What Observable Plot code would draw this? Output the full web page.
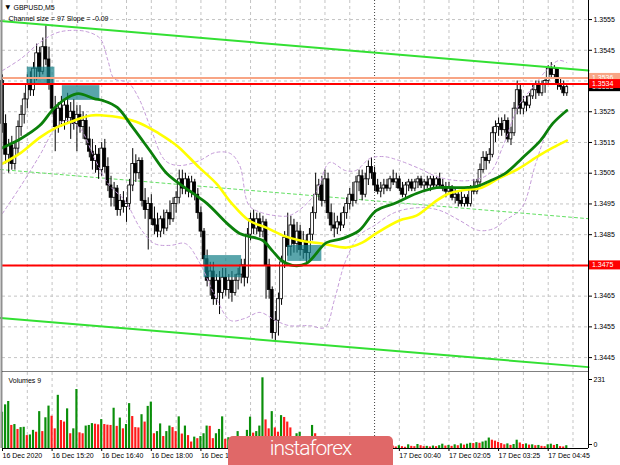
<!DOCTYPE html>
<html><head><meta charset="utf-8">
<script src="https://cdn.jsdelivr.net/npm/d3@7"></script>
<script src="https://cdn.jsdelivr.net/npm/@observablehq/plot@0.6"></script>
<style>
html,body{margin:0;padding:0;background:#fff;}
#wrap{position:relative;width:620px;height:465px;overflow:hidden;background:#fff;}
#wrap svg{display:block;}
#wm{position:absolute;left:228px;top:436px;width:165px;height:40px;background:#e06868;border-radius:5px;color:#fff;font-family:Roboto,"Open Sans",sans-serif;font-weight:300;font-size:21px;line-height:1;}
#wm span{position:absolute;left:0;right:0;top:2px;text-align:center;letter-spacing:-1px;}
</style></head>
<body><div id="wrap"><div id="wm"><span>instaforex</span></div></div>
<script>
// ---- candles (GBPUSD M5, bar index 0 = 16 Dec 14:00) ----
const open = [
1.3535,1.3521,1.3511,1.3514,1.3508,1.3513,1.3520,1.3524,1.3529,1.3534,
1.3532,1.3539,1.3544,1.3538,1.3546,1.3542,1.3534,1.3526,1.3520,1.3526,
1.3522,1.3527,1.3523,1.3525,1.3521,1.3524,1.3520,1.3522,1.3516,1.3512,
1.3509,1.3511,1.3506,1.3513,1.3507,1.3501,1.3497,1.3500,1.3493,1.3496,
1.3494,1.3495,1.3501,1.3508,1.3505,1.3509,1.3496,1.3493,1.3495,1.3490,
1.3488,1.3486,1.3490,1.3487,1.3492,1.3490,1.3495,1.3497,1.3503,1.3500,
1.3503,1.3499,1.3502,1.3498,1.3492,1.3486,1.3477,1.3470,1.3473,1.3464,
1.3470,1.3466,1.3471,1.3467,1.3470,1.3466,1.3470,1.3472,1.3475,1.3471,
1.3485,1.3490,1.3487,1.3490,1.3486,1.3489,1.3475,1.3467,1.3453,1.3457,
1.3464,1.3476,1.3484,1.3481,1.3488,1.3482,1.3486,1.3480,1.3483,1.3479,
1.3485,1.3492,1.3498,1.3501,1.3496,1.3503,1.3492,1.3488,1.3487,1.3489,
1.3488,1.3492,1.3495,1.3498,1.3496,1.3502,1.3504,1.3498,1.3503,1.3507,
1.3505,1.3501,1.3499,1.3500,1.3501,1.3500,1.3503,1.3502,1.3503,1.3500,
1.3498,1.3501,1.3502,1.3500,1.3502,1.3503,1.3501,1.3502,1.3501,1.3503,
1.3501,1.3503,1.3501,1.3500,1.3499,1.3500,1.3497,1.3498,1.3496,1.3495,
1.3497,1.3495,1.3500,1.3499,1.3502,1.3506,1.3510,1.3509,1.3511,1.3518,
1.3520,1.3521,1.3519,1.3522,1.3516,1.3518,1.3526,1.3532,1.3526,1.3528,
1.3527,1.3530,1.3532,1.3534,1.3531,1.3534,1.3535,1.3539,1.3537,1.3539,
1.3534,1.3533,1.3531];
const high = [
1.3537,1.3524,1.3516,1.3517,1.3515,1.3522,1.3527,1.3531,1.3537,1.3538,
1.3541,1.3547,1.3546,1.3549,1.3553,1.3546,1.3536,1.3530,1.3528,1.3530,
1.3529,1.3531,1.3528,1.3529,1.3527,1.3527,1.3525,1.3524,1.3520,1.3516,
1.3514,1.3513,1.3515,1.3516,1.3510,1.3504,1.3502,1.3501,1.3498,1.3499,
1.3497,1.3503,1.3513,1.3511,1.3510,1.3510,1.3500,1.3497,1.3498,1.3494,
1.3492,1.3491,1.3493,1.3493,1.3496,1.3497,1.3499,1.3506,1.3506,1.3505,
1.3504,1.3504,1.3503,1.3500,1.3494,1.3487,1.3480,1.3476,1.3476,1.3472,
1.3473,1.3474,1.3474,1.3472,1.3473,1.3472,1.3474,1.3477,1.3477,1.3487,
1.3492,1.3493,1.3492,1.3492,1.3491,1.3490,1.3477,1.3468,1.3460,1.3466,
1.3478,1.3486,1.3492,1.3491,1.3490,1.3489,1.3488,1.3486,1.3485,1.3487,
1.3494,1.3505,1.3503,1.3504,1.3506,1.3505,1.3495,1.3492,1.3491,1.3492,
1.3494,1.3497,1.3500,1.3502,1.3504,1.3506,1.3506,1.3505,1.3509,1.3510,
1.3507,1.3503,1.3502,1.3503,1.3503,1.3504,1.3506,1.3505,1.3504,1.3502,
1.3502,1.3503,1.3503,1.3503,1.3504,1.3504,1.3503,1.3504,1.3504,1.3504,
1.3504,1.3505,1.3503,1.3502,1.3502,1.3501,1.3500,1.3499,1.3499,1.3498,
1.3498,1.3501,1.3503,1.3503,1.3508,1.3512,1.3512,1.3513,1.3520,1.3522,
1.3523,1.3523,1.3524,1.3523,1.3520,1.3528,1.3535,1.3534,1.3530,1.3530,
1.3531,1.3534,1.3535,1.3535,1.3535,1.3536,1.3540,1.3541,1.3540,1.3539,
1.3536,1.3535,1.3534];
const low = [
1.3518,1.3508,1.3505,1.3506,1.3506,1.3511,1.3517,1.3521,1.3526,1.3530,
1.3530,1.3535,1.3536,1.3537,1.3540,1.3532,1.3524,1.3512,1.3518,1.3520,
1.3519,1.3521,1.3516,1.3519,1.3512,1.3518,1.3516,1.3514,1.3510,1.3506,
1.3505,1.3503,1.3504,1.3505,1.3499,1.3494,1.3494,1.3491,1.3491,1.3492,
1.3489,1.3493,1.3499,1.3502,1.3503,1.3494,1.3490,1.3480,1.3488,1.3485,
1.3484,1.3484,1.3485,1.3486,1.3488,1.3489,1.3492,1.3495,1.3498,1.3498,
1.3497,1.3497,1.3496,1.3490,1.3484,1.3475,1.3468,1.3465,1.3462,1.3462,
1.3459,1.3464,1.3465,1.3464,1.3463,1.3465,1.3467,1.3469,1.3468,1.3469,
1.3483,1.3485,1.3485,1.3484,1.3484,1.3464,1.3464,1.3451,1.3450,1.3452,
1.3462,1.3474,1.3478,1.3478,1.3479,1.3479,1.3478,1.3477,1.3476,1.3477,
1.3483,1.3490,1.3496,1.3494,1.3495,1.3490,1.3486,1.3484,1.3485,1.3486,
1.3487,1.3490,1.3493,1.3494,1.3495,1.3499,1.3496,1.3497,1.3501,1.3503,
1.3499,1.3498,1.3497,1.3498,1.3499,1.3499,1.3501,1.3500,1.3499,1.3497,
1.3497,1.3499,1.3499,1.3499,1.3500,1.3500,1.3499,1.3500,1.3499,1.3500,
1.3500,1.3500,1.3499,1.3497,1.3498,1.3496,1.3495,1.3494,1.3494,1.3494,
1.3494,1.3494,1.3498,1.3498,1.3500,1.3505,1.3506,1.3508,1.3510,1.3515,
1.3517,1.3517,1.3518,1.3515,1.3514,1.3517,1.3524,1.3524,1.3524,1.3525,
1.3526,1.3529,1.3529,1.3530,1.3530,1.3531,1.3534,1.3536,1.3536,1.3532,
1.3532,1.3530,1.3530];
const close = [
1.3521,1.3511,1.3514,1.3508,1.3513,1.3520,1.3524,1.3529,1.3534,1.3532,
1.3539,1.3544,1.3538,1.3546,1.3542,1.3534,1.3526,1.3520,1.3526,1.3522,
1.3527,1.3523,1.3525,1.3521,1.3524,1.3520,1.3522,1.3516,1.3512,1.3509,
1.3511,1.3506,1.3513,1.3507,1.3501,1.3497,1.3500,1.3493,1.3496,1.3494,
1.3495,1.3501,1.3508,1.3505,1.3509,1.3496,1.3493,1.3495,1.3490,1.3488,
1.3486,1.3490,1.3487,1.3492,1.3490,1.3495,1.3497,1.3503,1.3500,1.3503,
1.3499,1.3502,1.3498,1.3492,1.3486,1.3477,1.3470,1.3473,1.3464,1.3470,
1.3466,1.3471,1.3467,1.3470,1.3466,1.3470,1.3472,1.3475,1.3471,1.3485,
1.3490,1.3487,1.3490,1.3486,1.3489,1.3475,1.3467,1.3453,1.3457,1.3464,
1.3476,1.3484,1.3481,1.3488,1.3482,1.3486,1.3480,1.3483,1.3479,1.3485,
1.3492,1.3498,1.3501,1.3496,1.3503,1.3492,1.3488,1.3487,1.3489,1.3488,
1.3492,1.3495,1.3498,1.3496,1.3502,1.3504,1.3498,1.3503,1.3507,1.3505,
1.3501,1.3499,1.3500,1.3501,1.3500,1.3503,1.3502,1.3503,1.3500,1.3498,
1.3501,1.3502,1.3500,1.3502,1.3503,1.3501,1.3502,1.3501,1.3503,1.3501,
1.3503,1.3501,1.3500,1.3499,1.3500,1.3497,1.3498,1.3496,1.3495,1.3497,
1.3495,1.3500,1.3499,1.3502,1.3506,1.3510,1.3509,1.3511,1.3518,1.3520,
1.3521,1.3519,1.3522,1.3516,1.3518,1.3526,1.3532,1.3526,1.3528,1.3527,
1.3530,1.3532,1.3534,1.3531,1.3534,1.3535,1.3539,1.3537,1.3539,1.3534,
1.3533,1.3531,1.3533];

// ---- volumes ----
const volume = [
118,142,153,75,78,62,68,69,42,44,59,53,120,
55,100,138,105,64,173,91,86,129,48,64,192,
51,48,73,75,81,79,77,94,78,76,75,
131,72,99,64,78,146,104,68,67,110,86,137,151,
48,55,80,39,55,73,68,55,103,47,73,42,21,37,
32,39,48,73,72,32,48,62,103,
30,35,28,38,55,30,36,59,102,50,55,73,230,93,64,120,67,53,107,101,86,67,35,48,53,30,25,35,
75,48,
30,22,35,28,20,25,18,22,30,16,20,24,18,26,21,15,19,14,17,12,16,10,13,9,
8,5,9,6,4,12,7,6,13,9,6,7,5,8,6,9,14,8,10,7,12,9,15,11,14,17,16,19,17,21,24,34,27,24,20,16,12,15,10,13,27,18,13,15,11,12,9,10,7,6,12,14,10,13,6,5,
9];

// ---- indicators (bar index, price) ----
const greenIdx = [0,6,12,16.5,21,24.5,29.5,32.5,37,42,47.5,53,61.5,66,72.5,76.5,81,84,87,90,93.5,98,104.5,109.5,115,120.5,127,133.5,140,147.5,153,157.5,162.5,167.5,173.5,177.5,182];
const greenVal = [1.35133,1.35163,1.35205,1.3526,1.35296,1.35309,1.35293,1.35286,1.35264,1.35199,1.35124,1.35049,1.34984,1.34951,1.34886,1.34854,1.34841,1.34831,1.34798,1.34766,1.3475,1.34756,1.34824,1.34837,1.34863,1.34928,1.34954,1.34984,1.35003,1.35003,1.35007,1.35026,1.35052,1.35098,1.35156,1.35212,1.35254];
const yellowIdx = [0,6,12,17.5,23,28.5,32.5,38,44.5,50.5,54,57,63.5,69,74,79.5,85,90.5,96,103,111,116,120.5,128,133.5,140,144,148,154.5,160,166.5,173,177.5,182];
const yellowVal = [1.35081,1.35117,1.35166,1.35199,1.35221,1.35238,1.35238,1.35231,1.35212,1.35179,1.35156,1.35133,1.35068,1.35016,1.34951,1.34896,1.34873,1.34847,1.34831,1.34821,1.34808,1.34824,1.34854,1.34896,1.34912,1.34961,1.34984,1.34994,1.35003,1.35033,1.35065,1.35107,1.35133,1.35156];
const upperIdx = [0,6,12,17,21,27,31.5,34,36,40.5,44,47.5,52.5,57,63.5,68.5,73.5,76.5,79.5,83.5,88,92.5,97.5,101.5,105.5,110.5,114,118.5,123,128,134.5,141,150.5,157,161.5,166.5,171.5,176,179.5,182];
const upperVal = [1.35384,1.35423,1.35475,1.35505,1.35514,1.35511,1.35488,1.35417,1.35358,1.35345,1.35293,1.35205,1.35091,1.35075,1.35091,1.35117,1.35114,1.35075,1.34945,1.34922,1.34912,1.34912,1.34945,1.34994,1.35085,1.35059,1.35059,1.35098,1.35104,1.35091,1.35065,1.35036,1.35026,1.35049,1.35140,1.35270,1.35335,1.35391,1.35417,1.35410];
const lowerIdx = [0,6,12,17,20.5,25,30,34.5,39.5,44.5,49,54,59,63.5,68.5,73.5,78,83,88,92.5,99,104,107,110.5,115,120,126.5,134.5,141,147.5,153.5,158.5,162,167.5,172,176,182];
const lowerVal = [1.34919,1.35010,1.35108,1.35196,1.35222,1.35196,1.35091,1.35010,1.34961,1.34870,1.34821,1.34815,1.34821,1.34760,1.34652,1.34571,1.34577,1.34597,1.34571,1.34554,1.34554,1.34548,1.34636,1.34760,1.34847,1.34880,1.34922,1.34938,1.34929,1.34896,1.34864,1.34870,1.34896,1.34938,1.35082,1.35189,1.35254];

// ---- channel ----
const chanX = [-0.65, 189];
const chanUpper = [1.35545, 1.35384];
const chanMid = [1.35062, 1.34902];
const chanLower = [1.34579, 1.34419];

// ---- zones & levels ----
const boxStart = [8, 19.3, 65, 92];
const boxEnd = [16.9, 31.4, 77.1, 103];
const boxTop = [1.35395, 1.35335, 1.34782, 1.34815];
const boxBottom = [1.35341, 1.35287, 1.3471, 1.34763];
const orangeLevels = [1.3536];
const redLevels = [1.3534, 1.3475];

// ---- axes ----
const priceTicks = [1.3445,1.3455,1.3465,1.3475,1.3485,1.3495,1.3505,1.3515,1.3525,1.3535,1.3545,1.3555];
const timeIdx = [0,16,32,48,64,80,96,112,128,144,160,176];
const timeLabels = ["16 Dec 2020","16 Dec 15:20","16 Dec 16:40","16 Dec 18:00","16 Dec 19:20","16 Dec 20:40","16 Dec 22:00","16 Dec 23:20","17 Dec 00:40","17 Dec 02:05","17 Dec 03:25","17 Dec 04:45"];
const volTicks = [0, 231];
const daySep = 120;
const gridIdx = d3.range(8, 189, 8).filter(d => d !== daySep);

// ---- build ----
const bars = close.map((c, i) => ({i, o: open[i], h: high[i], l: low[i], c}));
const upBars = bars.filter(d => d.c >= d.o);
const dnBars = bars.filter(d => d.c < d.o);
const pts = (xs, ys) => xs.map((x, k) => ({x, y: ys[k]}));
const boxes = boxStart.map((s, k) => ({s, e: boxEnd[k], t: boxTop[k], b: boxBottom[k]}));
const xDom = [0, 189];
const yDom = [1.344015, 1.35612];
const font = "'Liberation Sans', Arial, sans-serif";
const gridStyle = {stroke: "#c4c4c4", strokeDasharray: "3,3", strokeWidth: 1};
const bid = close[close.length - 1];
const boxedLevels = [bid, ...orangeLevels, ...redLevels];
// axis texts hidden under the coloured level boxes are not printed (as in the terminal)
const axisText = d => boxedLevels.some(l => Math.abs(l - d) < 0.00018) ? "" : d.toFixed(4);

const main = Plot.plot({
  width: 620, height: 372,
  marginLeft: 2, marginRight: 32, marginTop: 0, marginBottom: 0,
  x: {domain: xDom, axis: null},
  y: {domain: yDom},
  style: {fontFamily: font, fontSize: "7px", background: "#fff"},
  marks: [
    Plot.ruleY(priceTicks, gridStyle),
    Plot.ruleX(gridIdx, gridStyle),
    Plot.ruleX([daySep], {stroke: "#444", strokeDasharray: "1,2"}),
    Plot.line(pts(chanX, chanMid), {x: "x", y: "y", stroke: "#62e062", strokeDasharray: "3,3", strokeWidth: 1}),
    Plot.ruleX(bars, {x: "i", y1: "l", y2: "h", stroke: "#000", strokeWidth: 1}),
    Plot.rect(upBars, {x1: d => d.i - 0.45, x2: d => d.i + 0.45, y1: "o", y2: "c", fill: "#fff", stroke: "#000", strokeWidth: 0.8}),
    Plot.rect(dnBars, {x1: d => d.i - 0.45, x2: d => d.i + 0.45, y1: "o", y2: "c", fill: "#000", stroke: "#000", strokeWidth: 0.8}),
    Plot.rect(boxes, {x1: "s", x2: "e", y1: "b", y2: "t", fill: "#137f88", fillOpacity: 0.7}),
    Plot.line(pts(upperIdx, upperVal), {x: "x", y: "y", stroke: "#c49ad8", strokeDasharray: "3,3", strokeWidth: 1, curve: "catmull-rom"}),
    Plot.line(pts(lowerIdx, lowerVal), {x: "x", y: "y", stroke: "#c49ad8", strokeDasharray: "3,3", strokeWidth: 1, curve: "catmull-rom"}),
    Plot.line(pts(yellowIdx, yellowVal), {x: "x", y: "y", stroke: "#ffff00", strokeWidth: 2.6, curve: "catmull-rom"}),
    Plot.line(pts(greenIdx, greenVal), {x: "x", y: "y", stroke: "#0b800b", strokeWidth: 2.8, curve: "catmull-rom"}),
    Plot.line(pts(chanX, chanUpper), {x: "x", y: "y", stroke: "#33e033", strokeWidth: 2}),
    Plot.line(pts(chanX, chanLower), {x: "x", y: "y", stroke: "#33e033", strokeWidth: 2}),
    Plot.ruleY(orangeLevels, {stroke: "#f8a585", strokeWidth: 2}),
    Plot.ruleY(redLevels, {stroke: "#ff0000", strokeWidth: 2}),
    Plot.ruleX([xDom[1]], {stroke: "#000", strokeWidth: 1}),
    Plot.ruleX([xDom[0]], {stroke: "#909090", strokeWidth: 2, dx: -1}),
    Plot.ruleY([yDom[0]], {stroke: "#000", strokeWidth: 1, dy: -0.5}),
    Plot.text(["\u25BC"], {frameAnchor: "top-left", dx: 3, dy: 7, textAnchor: "start", lineAnchor: "middle", fontSize: 6, fontFamily: "DejaVu Sans"}),
    Plot.text(["GBPUSD,M5"], {frameAnchor: "top-left", dx: 11, dy: 7, textAnchor: "start", lineAnchor: "middle", fontSize: 7}),
    Plot.text(["Channel size = 97 Slope = -0.09"], {frameAnchor: "top-left", dx: 6, dy: 18.5, textAnchor: "start", lineAnchor: "middle", fontSize: 7}),
    Plot.axisY({anchor: "right", ticks: priceTicks, tickFormat: axisText, tickSize: 3, tickPadding: 2, fontSize: 7, label: null})
  ]
});

const volData = volume.map((v, i) => ({i, v, up: i === 0 || v > volume[i - 1]}));
const timeMap = new Map(timeIdx.map((d, k) => [d, timeLabels[k]]));
const vol = Plot.plot({
  width: 620, height: 93,
  marginLeft: 2, marginRight: 32, marginTop: 0, marginBottom: 17,
  x: {domain: xDom},
  y: {domain: [0, 247.3]},
  color: {type: "identity"},
  style: {fontFamily: font, fontSize: "7px", background: "#fff"},
  marks: [
    Plot.ruleX(gridIdx, gridStyle),
    Plot.ruleX([daySep], {stroke: "#444", strokeDasharray: "1,2"}),
    Plot.rect(volData, {x1: d => d.i - 0.35, x2: d => d.i + 0.35, y1: 0, y2: "v", fill: d => d.up ? "#0a8f0a" : "#ff1a1a"}),
    Plot.ruleY([0], {stroke: "#000"}),
    Plot.ruleX([xDom[1]], {stroke: "#000"}),
    Plot.ruleX([xDom[0]], {stroke: "#909090", strokeWidth: 2, dx: -1}),
    Plot.text(["Volumes 9"], {frameAnchor: "top-left", dx: 6, dy: 8, textAnchor: "start", lineAnchor: "middle", fontSize: 7}),
    Plot.axisY({anchor: "right", ticks: [volTicks[1]], tickSize: 3, tickPadding: 2, fontSize: 7, dy: 2, label: null}),
    Plot.axisY({anchor: "right", ticks: [volTicks[0]], tickSize: 3, tickPadding: 2, fontSize: 7, dy: -4, label: null}),
    Plot.axisX({anchor: "bottom", ticks: timeIdx, tickFormat: d => timeMap.get(d), textAnchor: "start", tickSize: 3, tickPadding: 2, fontSize: 7, label: null})
  ]
});

const wrap = document.getElementById("wrap");
wrap.insertBefore(vol, wrap.firstChild);
wrap.insertBefore(main, wrap.firstChild);

// coloured price labels on the right axis
const ys = main.scale("y");
const g = d3.select(main).append("g")
  .attr("font-size", 7).attr("font-family", font).attr("text-anchor", "start");
const priceLabels = [
  {p: bid, fill: "#000"},
  {p: orangeLevels[0], fill: "#f8a585"},
  {p: redLevels[0], fill: "#ff0000"},
  {p: redLevels[1], fill: "#ff0000"}
];
priceLabels.forEach(({p, fill}) => {
  const y = ys.apply(p);
  g.append("rect").attr("x", 589).attr("y", y - 4.5).attr("width", 31).attr("height", 9).attr("fill", fill);
  g.append("text").attr("x", 592).attr("y", y).attr("dy", "0.35em")
    .attr("text-anchor", "start").attr("fill", "#fff").text(p.toFixed(4));
});
</script>
</body></html>
